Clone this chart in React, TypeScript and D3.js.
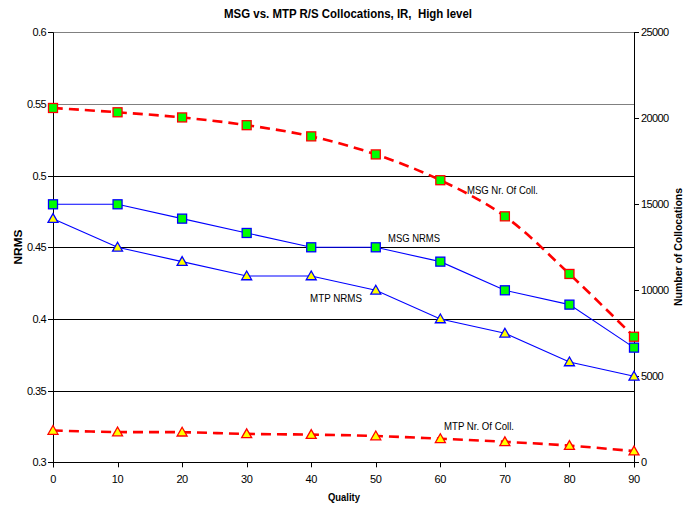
import React from "react";
import * as d3 from "d3";

const quality = [0, 10, 20, 30, 40, 50, 60, 70, 80, 90];
const msgNrms = [0.48, 0.48, 0.47, 0.46, 0.45, 0.45, 0.44, 0.42, 0.41, 0.38];
const mtpNrms = [0.47, 0.45, 0.44, 0.43, 0.43, 0.42, 0.40, 0.39, 0.37, 0.36];
const msgColl = [20600, 20350, 20050, 19600, 18950, 17900, 16400, 14300, 10950, 7300];
const mtpColl = [1850, 1760, 1750, 1650, 1610, 1530, 1370, 1190, 970, 650];
const leftTicks = [0.3, 0.35, 0.4, 0.45, 0.5, 0.55, 0.6];
const rightTicks = [0, 5000, 10000, 15000, 20000, 25000];
const xTicks = [0, 10, 20, 30, 40, 50, 60, 70, 80, 90];

const W = 698, H = 509;
const L = 53, R = 634, T = 32.3, B = 462.3;
const FONT = "'Liberation Sans', Arial, sans-serif";

export default function App() {
  const x = d3.scaleLinear().domain([0, 90]).range([L, R]);
  const yL = d3.scaleLinear().domain([0.3, 0.6]).range([B, T]);
  const yR = d3.scaleLinear().domain([0, 25000]).range([B, T]);

  const straight = (ys: number[], s: d3.ScaleLinear<number, number>) =>
    d3.line<number>().x((_, i) => x(quality[i])).y((v) => s(v))(ys) as string;
  const smooth = (ys: number[], s: d3.ScaleLinear<number, number>) =>
    d3.line<number>().curve(d3.curveCatmullRom.alpha(0.5)).x((_, i) => x(quality[i])).y((v) => s(v))(ys) as string;

  const square = (cx: number, cy: number, stroke: string, k: string) => (
    <rect key={k} x={cx - 4.5} y={cy - 4.5} width={9} height={9} fill="#00ff00" stroke={stroke} strokeWidth={1.3} />
  );
  const tri = (cx: number, cy: number, stroke: string, k: string) => (
    <path key={k} d={`M${cx},${cy - 5}L${cx + 5},${cy + 3.8}L${cx - 5},${cy + 3.8}Z`} fill="#ffff00" stroke={stroke} strokeWidth={1.3} />
  );
  const px = (v: number) => Math.round(v) + 0.5;

  return (
    <svg width={W} height={H} style={{ position: "absolute", left: 0, top: 0, background: "#fff" }} fontFamily={FONT}>
      <rect x={0} y={0} width={W} height={H} fill="#fff" />
      <text x={348} y={18} textAnchor="middle" fontSize={12} fontWeight="bold" textLength={248} lengthAdjust="spacingAndGlyphs" xmlSpace="preserve">
        {"MSG vs. MTP R/S Collocations, IR,  High level"}
      </text>

      {/* gridlines */}
      {leftTicks.filter((t) => t > 0.3).map((t) => (
        <line key={"g" + t} x1={L} x2={R} y1={px(yL(t))} y2={px(yL(t))} stroke={t >= 0.55 ? "#808080" : "#000"} strokeWidth={1} />
      ))}

      {/* axes */}
      <line x1={px(L)} x2={px(L)} y1={T} y2={B + 5} stroke="#000" />
      <line x1={px(R)} x2={px(R)} y1={T} y2={B + 5} stroke="#000" />
      <line x1={L} x2={R} y1={px(B)} y2={px(B)} stroke="#000" />

      {leftTicks.map((t) => (
        <g key={"l" + t}>
          <line x1={L - 5} x2={L} y1={px(yL(t))} y2={px(yL(t))} stroke="#000" />
          <text x={L - 7} y={yL(t) + 4} textAnchor="end" fontSize={11} letterSpacing={-0.6}>{String(t)}</text>
        </g>
      ))}
      {rightTicks.map((t) => (
        <g key={"r" + t}>
          <line x1={R} x2={R + 5} y1={px(yR(t))} y2={px(yR(t))} stroke="#000" />
          <text x={R + 7} y={yR(t) + 4} textAnchor="start" fontSize={11} letterSpacing={-0.6}>{String(t)}</text>
        </g>
      ))}
      {xTicks.map((t) => (
        <g key={"x" + t}>
          <line x1={px(x(t))} x2={px(x(t))} y1={B} y2={B + 5} stroke="#000" />
          <text x={x(t)} y={B + 21} textAnchor="middle" fontSize={11} letterSpacing={-0.4}>{String(t)}</text>
        </g>
      ))}

      <text x={344} y={501} textAnchor="middle" fontSize={11} fontWeight="bold" textLength={32} lengthAdjust="spacingAndGlyphs">Quality</text>
      <text transform={`translate(22,247) rotate(-90)`} textAnchor="middle" fontSize={11} fontWeight="bold" textLength={35} lengthAdjust="spacingAndGlyphs">NRMS</text>
      <text transform={`translate(682,247) rotate(-90)`} textAnchor="middle" fontSize={11} fontWeight="bold" textLength={118} lengthAdjust="spacingAndGlyphs">Number of Collocations</text>

      {/* lines */}
      <path d={straight(msgNrms, yL)} fill="none" stroke="#0000ff" strokeWidth={1.1} />
      <path d={straight(mtpNrms, yL)} fill="none" stroke="#0000ff" strokeWidth={1.1} />
      <path d={smooth(msgColl, yR)} fill="none" stroke="#ff0000" strokeWidth={2.6} strokeDasharray="10,6" />
      <path d={smooth(mtpColl, yR)} fill="none" stroke="#ff0000" strokeWidth={2.6} strokeDasharray="10,6" />

      {/* markers */}
      {msgNrms.map((v, i) => square(x(quality[i]), yL(v), "#0000ff", "sn" + i))}
      {mtpNrms.map((v, i) => tri(x(quality[i]), yL(v), "#0000ff", "tn" + i))}
      {msgColl.map((v, i) => square(x(quality[i]), yR(v), "#ff0000", "sc" + i))}
      {mtpColl.map((v, i) => tri(x(quality[i]), yR(v), "#ff0000", "tc" + i))}

      {/* series labels */}
      <text x={467} y={194} fontSize={11} textLength={71} lengthAdjust="spacingAndGlyphs">MSG Nr. Of Coll.</text>
      <text x={388} y={242} fontSize={11} textLength={52} lengthAdjust="spacingAndGlyphs">MSG NRMS</text>
      <text x={310} y={302} fontSize={11} textLength={52} lengthAdjust="spacingAndGlyphs">MTP NRMS</text>
      <text x={444} y={430} fontSize={11} textLength={70} lengthAdjust="spacingAndGlyphs">MTP Nr. Of Coll.</text>
    </svg>
  );
}
